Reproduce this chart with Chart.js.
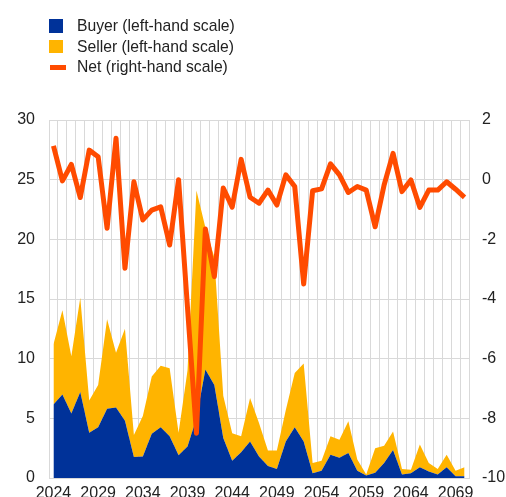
<!DOCTYPE html>
<html lang="en">
<head>
<meta charset="utf-8" />
<title>Buyer / Seller / Net</title>
<script src="https://cdn.jsdelivr.net/npm/chart.js"></script>
<style>
  html, body { margin: 0; padding: 0; background: #fff; }
  .wrap { position: relative; width: 506px; height: 497px; font-family: "Liberation Sans", Arial, sans-serif; }
  canvas { position: absolute; left: 0; top: 0; }
  .legend { position: absolute; left: 49px; top: 16px; font-size: 15.7px; color: #222; }
  .legend div { height: 20.5px; line-height: 20.5px; position: relative; padding-left: 28px; }
  .legend span { position: absolute; left: 0; }
  .sq { top: 3px; width: 13.5px; height: 13.5px; }
  .ln { top: 8px; width: 16px; height: 4.5px; left: 1px !important; }
</style>
</head>
<body>
<div class="wrap">
  <canvas id="myChart" width="506" height="497"></canvas>
  <div class="legend">
    <div><span class="sq" style="background:#003299"></span>Buyer (left-hand scale)</div>
    <div><span class="sq" style="background:#ffb400"></span>Seller (left-hand scale)</div>
    <div><span class="ln" style="background:#ff4b00"></span>Net (right-hand scale)</div>
  </div>
</div>
<script>
// years 2024-2070
const years = [];
for (let y = 2024; y <= 2070; y++) years.push(String(y));

const buyer = [6.15, 7.0, 5.4, 7.2, 3.8, 4.25, 5.8, 5.9, 4.8, 1.75,
  1.8, 3.7, 4.25, 3.5, 1.9, 2.65, 5.0, 9.1, 7.8, 3.35,
  1.45, 2.15, 3.05, 1.8, 1.0, 0.75, 3.05, 4.25, 3.05, 0.4,
  0.6, 1.95, 1.7, 2.1, 0.6, 0.2, 0.45, 1.25, 2.35, 0.3,
  0.4, 0.9, 0.55, 0.3, 0.9, 0.15, 0.15];

const seller = [5.05, 7.05, 4.8, 7.9, 2.7, 3.55, 7.5, 4.6, 7.7, 1.85,
  3.4, 4.8, 5.15, 5.7, 1.9, 6.35, 19.1, 11.9, 10.7, 3.55,
  2.3, 1.35, 3.65, 2.8, 1.3, 1.55, 2.65, 4.55, 6.55, 0.85,
  0.85, 1.55, 1.5, 2.65, 0.95, 0.1, 2.05, 1.45, 1.55, 0.45,
  0.3, 1.9, 0.7, 0.45, 1.05, 0.45, 0.75];

const net = [1.13, -0.04, 0.51, -0.6, 0.99, 0.77, -1.63, 1.39, -2.97, -0.07,
  -1.35, -1.02, -0.91, -2.19, 0.0, -4.3, -8.5, -1.65, -3.25, -0.28,
  -0.92, 0.68, -0.59, -0.79, -0.35, -0.85, 0.16, -0.23, -3.5, -0.37,
  -0.31, 0.53, 0.16, -0.43, -0.23, -0.35, -1.58, -0.18, 0.88, -0.4,
  -0.01, -0.93, -0.35, -0.35, -0.07, -0.32, -0.59];

const leftTicks = [0, 5, 10, 15, 20, 25, 30];
const rightTicks = [-10, -8, -6, -4, -2, 0, 2];

const gridColor = '#d9d9d9';
const tickFont = { family: 'Liberation Sans, Arial, sans-serif', size: 16 };

// fixed axis sizes so the plot area sits where the original has it
const fitY = (w) => (s) => { s.width = w; s.paddingTop = 0; s.paddingBottom = 0; };

const config = {
  type: 'line',
  data: {
    labels: years,
    datasets: [
      {
        label: 'Buyer (left-hand scale)',
        data: buyer,
        yAxisID: 'y',
        stack: 'a',
        backgroundColor: '#003299',
        borderWidth: 0,
        pointRadius: 0,
        tension: 0,
        fill: 'origin',
        order: 1
      },
      {
        label: 'Seller (left-hand scale)',
        data: seller,
        yAxisID: 'y',
        stack: 'a',
        backgroundColor: '#ffb400',
        borderWidth: 0,
        pointRadius: 0,
        tension: 0,
        fill: '-1',
        order: 1
      },
      {
        label: 'Net (right-hand scale)',
        data: net,
        yAxisID: 'y1',
        borderColor: '#ff4b00',
        borderWidth: 5,
        borderJoinStyle: 'round',
        pointRadius: 0,
        tension: 0,
        fill: false,
        order: 0
      }
    ]
  },
  options: {
    responsive: false,
    animation: false,
    layout: { padding: { top: 120, left: 0, right: 0, bottom: 0 } },
    plugins: { legend: { display: false }, tooltip: { enabled: false } },
    scales: {
      x: {
        offset: true,
        grid: { offset: true, color: gridColor, drawTicks: false },
        border: { color: gridColor },
        ticks: {
          autoSkip: false,
          maxRotation: 0,
          padding: 6,
          color: '#222',
          font: tickFont,
          callback: (v, i) => (i % 5 === 0 ? years[i] : '')
        },
        afterFit: (s) => { s.height = 19; }
      },
      y: {
        position: 'left',
        stacked: true,
        min: 0,
        max: 30,
        grid: { color: gridColor, drawTicks: false },
        border: { display: false },
        afterBuildTicks: (s) => { s.ticks = leftTicks.map(v => ({ value: v })); },
        ticks: { padding: 14, color: '#222', font: tickFont },
        afterFit: fitY(49)
      },
      y1: {
        position: 'right',
        min: -10,
        max: 2,
        grid: { display: false, drawTicks: false },
        border: { display: false },
        afterBuildTicks: (s) => { s.ticks = rightTicks.map(v => ({ value: v })); },
        ticks: { padding: 13, color: '#222', font: tickFont },
        afterFit: fitY(37)
      }
    }
  }
};

const myChart = new Chart(document.getElementById('myChart'), config);
</script>
</body>
</html>
